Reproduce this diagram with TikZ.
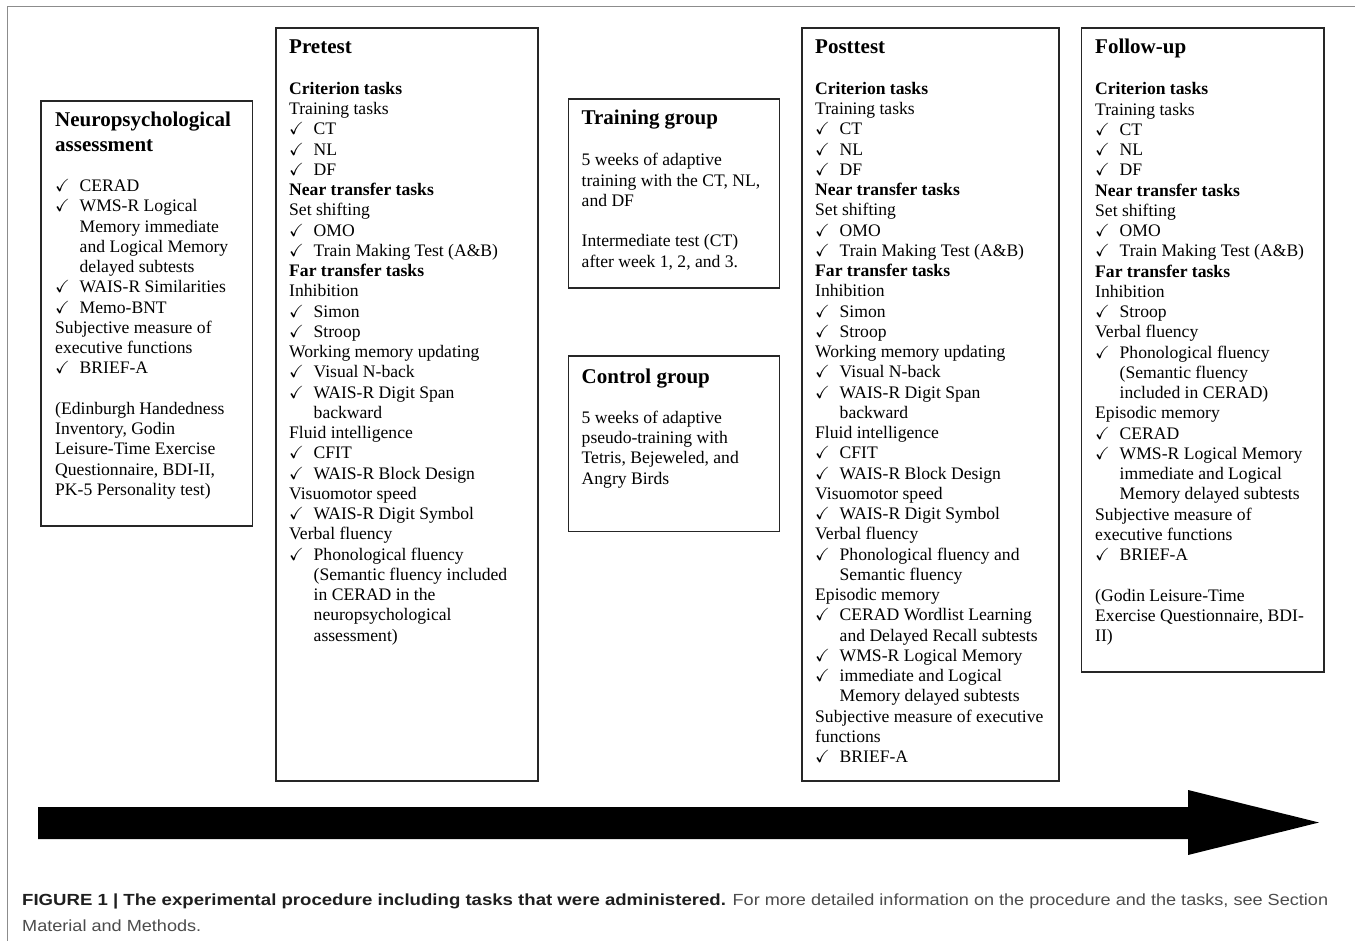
\documentclass[tikz,border=0pt]{standalone}
\usepackage{amssymb}
\usepackage{fontspec}
\setmainfont{Liberation Serif}
\newfontfamily\capfont[FakeStretch=1.124, BoldFeatures={FakeStretch=1.155}]{Liberation Sans}
\newcommand\ck{\makebox[24.5pt][l]{\checkmark}}
\newcommand\ind{\hspace*{24.5pt}}
\tikzset{
  boxstyle/.style={draw=black!85, line width=1.7pt, inner sep=0pt, anchor=north west},
  body/.style={anchor=base west, inner sep=0pt, font=\fontsize{17.6}{20.25}\selectfont},
  ttl/.style={anchor=base west, inner sep=0pt, font=\fontsize{21}{25}\selectfont\bfseries},
  capstyle/.style={anchor=base west, inner sep=0pt, text=black!70, font=\capfont\fontsize{16.1}{25.5}\selectfont},
}
\begin{document}
\begin{tikzpicture}[x=1pt,y=-1pt]
\useasboundingbox (0,0) rectangle (1355,941);
\fill[white] (0,0) rectangle (1355,941);
% outer frame
\draw[black!45, line width=1.3pt] (7.5,941) -- (7.5,6.5) -- (1355,6.5);

% boxes
\node[boxstyle, minimum width=211.5pt, minimum height=424.5pt] (neuro) at (40,100.5) {};
\node[boxstyle, minimum width=262pt, minimum height=753pt] (pre) at (275,27) {};
\node[boxstyle, minimum width=211pt, minimum height=188.5pt] (train) at (567.5,98.5) {};
\node[boxstyle, minimum width=211pt, minimum height=175.5pt] (ctrl) at (567.5,355) {};
\node[boxstyle, minimum width=257pt, minimum height=753pt] (post) at (801,27) {};
\node[boxstyle, minimum width=242.5pt, minimum height=644pt] (follow) at (1080.5,27) {};

% Neuropsychological assessment
\node[ttl] (neurottl) at (55,126.7) {\begin{tabular}[t]{@{}l@{}}Neuropsychological\\assessment\end{tabular}};
\node[body] (neurotxt) at (55,191.7) {\begin{tabular}[t]{@{}l@{}}
\ck CERAD\\
\ck WMS-R Logical\\
\ind Memory immediate\\
\ind and Logical Memory\\
\ind delayed subtests\\
\ck WAIS-R Similarities\\
\ck Memo-BNT\\
Subjective measure of\\
executive functions\\
\ck BRIEF-A\\
\\
(Edinburgh Handedness\\
Inventory, Godin\\
Leisure-Time Exercise\\
Questionnaire, BDI-II,\\
PK-5 Personality test)
\end{tabular}};

% Pretest
\node[ttl] (prettl) at (289,53.5) {Pretest};
\node[body] (pretxt) at (289,94.5) {\begin{tabular}[t]{@{}l@{}}
\textbf{Criterion tasks}\\
Training tasks\\
\ck CT\\
\ck NL\\
\ck DF\\
\textbf{Near transfer tasks}\\
Set shifting\\
\ck OMO\\
\ck Train Making Test (A\&B)\\
\textbf{Far transfer tasks}\\
Inhibition\\
\ck Simon\\
\ck Stroop\\
Working memory updating\\
\ck Visual N-back\\
\ck WAIS-R Digit Span\\
\ind backward\\
Fluid intelligence\\
\ck CFIT\\
\ck WAIS-R Block Design\\
Visuomotor speed\\
\ck WAIS-R Digit Symbol\\
Verbal fluency\\
\ck Phonological fluency\\
\ind (Semantic fluency included\\
\ind in CERAD in the\\
\ind neuropsychological\\
\ind assessment)
\end{tabular}};

% Training group
\node[ttl] (trainttl) at (581.5,125) {Training group};
\node[body] (traintxt) at (581.5,166) {\begin{tabular}[t]{@{}l@{}}
5 weeks of adaptive\\
training with the CT, NL,\\
and DF\\
\\
Intermediate test (CT)\\
after week 1, 2, and 3.
\end{tabular}};

% Control group
\node[ttl] (ctrlttl) at (581.5,383.3) {Control group};
\node[body] (ctrltxt) at (581.5,423.3) {\begin{tabular}[t]{@{}l@{}}
5 weeks of adaptive\\
pseudo-training with\\
Tetris, Bejeweled, and\\
Angry Birds
\end{tabular}};

% Posttest
\node[ttl] (postttl) at (815,53.5) {Posttest};
\node[body] (posttxt) at (815,94.5) {\begin{tabular}[t]{@{}l@{}}
\textbf{Criterion tasks}\\
Training tasks\\
\ck CT\\
\ck NL\\
\ck DF\\
\textbf{Near transfer tasks}\\
Set shifting\\
\ck OMO\\
\ck Train Making Test (A\&B)\\
\textbf{Far transfer tasks}\\
Inhibition\\
\ck Simon\\
\ck Stroop\\
Working memory updating\\
\ck Visual N-back\\
\ck WAIS-R Digit Span\\
\ind backward\\
Fluid intelligence\\
\ck CFIT\\
\ck WAIS-R Block Design\\
Visuomotor speed\\
\ck WAIS-R Digit Symbol\\
Verbal fluency\\
\ck Phonological fluency and\\
\ind Semantic fluency\\
Episodic memory\\
\ck CERAD Wordlist Learning\\
\ind and Delayed Recall subtests\\
\ck WMS-R Logical Memory\\
\ck immediate and Logical\\
\ind Memory delayed subtests\\
Subjective measure of executive\\
functions\\
\ck BRIEF-A
\end{tabular}};

% Follow-up
\node[ttl] (followttl) at (1095,53.5) {Follow-up};
\node[body] (followtxt) at (1095,95) {\begin{tabular}[t]{@{}l@{}}
\textbf{Criterion tasks}\\
Training tasks\\
\ck CT\\
\ck NL\\
\ck DF\\
\textbf{Near transfer tasks}\\
Set shifting\\
\ck OMO\\
\ck Train Making Test (A\&B)\\
\textbf{Far transfer tasks}\\
Inhibition\\
\ck Stroop\\
Verbal fluency\\
\ck Phonological fluency\\
\ind (Semantic fluency\\
\ind included in CERAD)\\
Episodic memory\\
\ck CERAD\\
\ck WMS-R Logical Memory\\
\ind immediate and Logical\\
\ind Memory delayed subtests\\
Subjective measure of\\
executive functions\\
\ck BRIEF-A\\
\\
(Godin Leisure-Time\\
Exercise Questionnaire, BDI-\\
II)
\end{tabular}};

% timeline arrow
\fill[black] (38,807) -- (1188,807) -- (1188,790) -- (1319,822.5) -- (1188,855) -- (1188,839) -- (38,839) -- cycle;

% caption
\node[capstyle] (cap) at (22,905.5) {\begin{tabular}[t]{@{}l@{}}{\color{black!88}\bfseries FIGURE 1 | The experimental procedure including tasks that were administered.} For more detailed information on the procedure and the tasks, see Section\\
Material and Methods.\end{tabular}};
\end{tikzpicture}
\end{document}
